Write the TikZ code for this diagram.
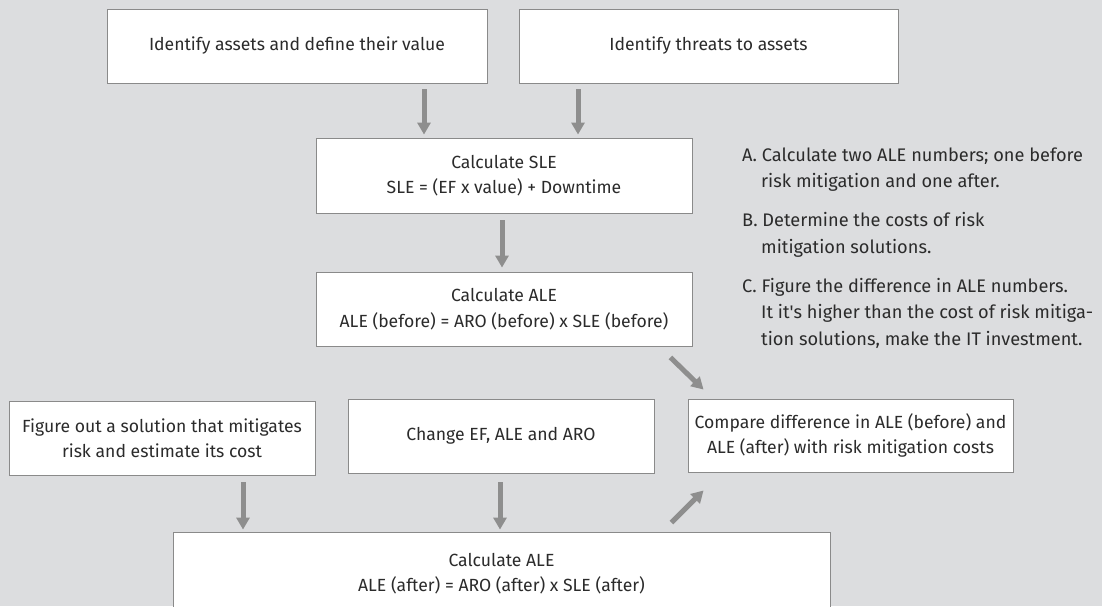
\documentclass[tikz,border=0pt]{standalone}
\usepackage{fontspec}
\setmainfont{Fira Sans}
\usetikzlibrary{arrows.meta,calc}
\definecolor{bggray}{HTML}{DCDDDF}
\definecolor{edgegray}{HTML}{8A8A8A}
\definecolor{arrgray}{HTML}{8E8E8E}
\definecolor{txt}{HTML}{2B2B2B}
\tikzset{
  box/.style={draw=edgegray, line width=0.9pt, fill=white, inner sep=0pt, align=center,
    text=txt, font=\fontsize{17.6}{25.5}\selectfont},
  arr/.style={draw=arrgray, line width=5pt, -{Triangle[width=13pt,length=12pt]}},
  note/.style={anchor=base west, inner sep=0pt, text=txt, font=\fontsize{18.2}{26}\selectfont}
}
\begin{document}
\begin{tikzpicture}[x=1pt,y=-1pt]
\useasboundingbox (0,0) rectangle (1102,606);
\clip (0,0) rectangle (1102,606);
\fill[bggray] (0,0) rectangle (1102,606);
% boxes
\node[box, minimum width=380pt, minimum height=74pt] (n1) at (297,46) {Identify assets and define their value};
\node[box, minimum width=379pt, minimum height=74pt] (n2) at (708.5,46) {Identify threats to assets};
\node[box, minimum width=376pt, minimum height=75pt] (sle) at (504,175.5) {Calculate SLE\\SLE = (EF x value) + Downtime};
\node[box, minimum width=376pt, minimum height=74pt] (ale1) at (504,309) {Calculate ALE\\ALE (before) = ARO (before) x SLE (before)};
\node[box, minimum width=306pt, minimum height=74pt] (fig) at (162,438) {Figure out a solution that mitigates\\risk and estimate its cost};
\node[box, minimum width=306pt, minimum height=74pt] (chg) at (501,436) {Change EF, ALE and ARO};
\node[box, minimum width=325pt, minimum height=73pt] (cmp) at (850.5,435.5) {Compare difference in ALE (before) and\\ALE (after) with risk mitigation costs};
\node[box, minimum width=657pt, minimum height=83pt] (ale2) at (501.5,573.5) {Calculate ALE\\ALE (after) = ARO (after) x SLE (after)};
% arrow columns
\coordinate (xa) at (424,0);
\coordinate (xb) at (578,0);
\coordinate (xc) at (502,0);
\coordinate (xd) at (243,0);
\coordinate (xe) at (500,0);
\draw[arr, shorten <=6pt, shorten >=3pt] (n1.south -| xa) -- (sle.north -| xa);
\draw[arr, shorten <=6pt, shorten >=3pt] (n2.south -| xb) -- (sle.north -| xb);
\draw[arr, shorten <=7pt, shorten >=4pt] (sle.south -| xc) -- (ale1.north -| xc);
\draw[arr] ($(ale1.south east)+(-22,11)$) -- ($(cmp.north west)+(16,-9)$);
\draw[arr, shorten <=7pt, shorten >=2pt] (fig.south -| xd) -- (ale2.north -| xd);
\draw[arr, shorten <=9pt, shorten >=2pt] (chg.south -| xe) -- (ale2.north -| xe);
\draw[arr] ($(ale2.north east)+(-159,-9)$) -- ($(cmp.south west)+(16,18)$);
% notes
\node[note] (a1) at (742,161) {A. Calculate two ALE numbers; one before};
\node[note] (a2) at (761,187) {risk mitigation and one after.};
\node[note] (b1) at (742,226) {B. Determine the costs of risk};
\node[note] (b2) at (761,253) {mitigation solutions.};
\node[note] (c1) at (742,292) {C. Figure the difference in ALE numbers.};
\node[note] (c2) at (761,318) {It it\textquotesingle s higher than the cost of risk mitiga-};
\node[note] (c3) at (761,345) {tion solutions, make the IT investment.};
\end{tikzpicture}
\end{document}
